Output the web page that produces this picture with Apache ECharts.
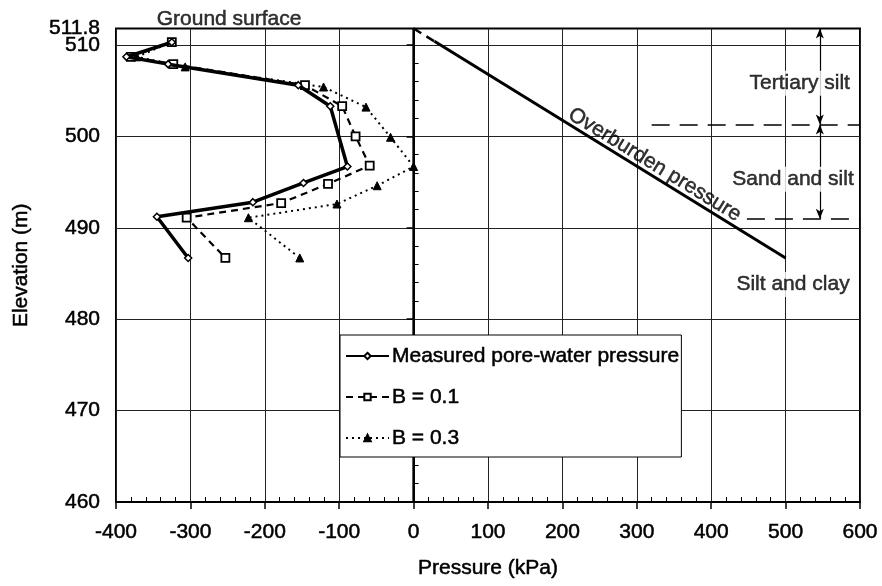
<!DOCTYPE html>
<html><head><meta charset="utf-8">
<script src="https://cdn.jsdelivr.net/npm/echarts@6/dist/echarts.min.js"></script>
<style>html,body{margin:0;padding:0;background:#fff}#c{width:882px;height:586px}</style>
</head><body><div id="c"></div>
<script>
// ---- data ----
const measuredElev = [510.3, 508.7, 507.9, 505.6, 503.3, 496.7, 494.9, 492.8, 491.2, 486.7];
const measuredKPa  = [-325, -386, -330, -155, -112, -89, -148, -216, -345, -303];
const b01Elev = [510.3, 508.7, 507.9, 505.6, 503.3, 500.0, 496.8, 494.8, 492.7, 491.1, 486.7];
const b01KPa  = [-325, -380, -323, -146, -96, -78, -59, -115, -178, -305, -253];
const b03Elev = [510.3, 508.7, 507.6, 505.4, 503.2, 499.9, 496.7, 494.6, 492.6, 491.1, 486.7];
const b03KPa  = [-325, -372, -307, -121, -64, -31, 0, -49, -103, -222, -153];
const overburdenKPa  = [0, 28, 500];
const overburdenElev = [511.8, 510.4, 486.7];
const zeroLineKPa = [0, 0];
const zeroLineElev = [511.8, 460];
const layerTopElev = [511.8, 501.3, 491.0];
const layerNames = ['Tertiary silt', 'Sand and silt', 'Silt and clay'];
const layerLabelKPa = [519, 510, 510];
const layerLabelElev = [505.8, 495.3, 483.8];
const boundaryStartKPa = [320, 448];
const dimensionKPa = 546;
const xTickValues = [-400, -300, -200, -100, 0, 100, 200, 300, 400, 500, 600];
const yTickValues = [460, 470, 480, 490, 500, 510];
const yTopLabel = [511.8];
const seriesNames = ['Measured pore-water pressure', 'B = 0.1', 'B = 0.3'];

const xMin = xTickValues[0], xMax = xTickValues[xTickValues.length - 1];
const yMin = yTickValues[0], yMax = yTopLabel[0];
const zip = (xs, ys) => xs.map((x, i) => [x, ys[i]]);
const FONT = '"Liberation Sans", Arial, Helvetica, sans-serif';
const txt = { fontFamily: FONT, fontSize: 21, color: '#000', textBorderColor: '#000', textBorderWidth: 0.5 };

const chart = echarts.init(document.getElementById('c'), null, { renderer: 'canvas' });

const axisCommonX = { type: 'value', min: xMin, max: xMax, interval: 100, position: 'bottom' };
const axisCommonY = { type: 'value', min: yMin, max: yMax, interval: 10, position: 'left' };

const option = {
  backgroundColor: '#fff',
  animation: false,
  grid: { left: 116, right: 22, top: 28.5, bottom: 84, show: true, borderColor: '#000', borderWidth: 2, backgroundColor: 'transparent' },
  legend: {
    data: seriesNames,
    orient: 'vertical', left: 340, top: 335,
    itemWidth: 43, itemHeight: 8, itemGap: 17,
    padding: [9, 2, 7, 5],
    backgroundColor: '#fff', borderColor: '#000', borderWidth: 1, borderRadius: 0,
    textStyle: Object.assign({}, txt, { lineHeight: 24, padding: [0, 0, 0, -2] }),
    selectedMode: false, z: 20
  },
  xAxis: [
    Object.assign({}, axisCommonX, {
      name: 'Pressure (kPa)', nameLocation: 'middle', nameGap: 56,
      nameTextStyle: txt,
      axisLine: { show: true, lineStyle: { color: '#000', width: 2 } },
      axisTick: { show: true, inside: false, length: 7, lineStyle: { color: '#000', width: 1.5 }, customValues: xTickValues },
      axisLabel: Object.assign({}, txt, { margin: 20, customValues: xTickValues, hideOverlap: false, showMinLabel: true, showMaxLabel: true }),
      splitLine: { show: true, lineStyle: { color: '#222', width: 1 } }
    }),
    Object.assign({}, axisCommonX, {
      axisLine: { show: false }, axisTick: { show: false, inside: true },
      axisLabel: { show: false }, splitLine: { show: false },
      minorTick: { show: true, splitNumber: 5, length: 5, lineStyle: { color: '#000', width: 1 } }
    })
  ],
  yAxis: [
    Object.assign({}, axisCommonY, {
      name: 'Elevation (m)', nameLocation: 'middle', nameGap: 84,
      nameTextStyle: txt,
      axisLine: { show: true, lineStyle: { color: '#000', width: 2 } },
      axisTick: { show: true, inside: false, length: 7, lineStyle: { color: '#000', width: 1.5 }, customValues: yTickValues },
      axisLabel: Object.assign({}, txt, { margin: 16, customValues: yTickValues, hideOverlap: false, showMinLabel: true, showMaxLabel: true }),
      splitLine: { show: true, lineStyle: { color: '#222', width: 1 } }
    }),
    Object.assign({}, axisCommonY, {
      axisLine: { show: false }, axisTick: { show: false, inside: true },
      axisLabel: Object.assign({}, txt, { show: true, margin: 16, customValues: yTopLabel, hideOverlap: false, showMaxLabel: true,
        formatter: v => String(Math.round(v * 10) / 10) }),
      splitLine: { show: false },
      minorTick: { show: true, splitNumber: 5, length: 5, lineStyle: { color: '#000', width: 1 } }
    })
  ],
  series: [
    {
      name: 'zero', type: 'line', silent: true, data: zip(zeroLineKPa, zeroLineElev),
      symbol: 'none', lineStyle: { color: '#000', width: 2.5 }, z: 2
    },
    {
      name: 'overburden-dash', type: 'line', silent: true,
      data: zip(overburdenKPa.slice(0, 2), overburdenElev.slice(0, 2)),
      symbol: 'none', lineStyle: { color: '#000', width: 2.5, type: [9, 6] }, z: 2
    },
    {
      name: 'overburden', type: 'line', silent: true,
      data: zip(overburdenKPa.slice(1), overburdenElev.slice(1)),
      symbol: 'none', lineStyle: { color: '#000', width: 3 }, z: 2
    },
    {
      name: 'layers', type: 'line', silent: true, data: [], z: 3,
      markLine: {
        silent: true, animation: false,
        label: { show: false },
        symbol: ['none', 'none'],
        lineStyle: { color: '#000', width: 1.5, type: [18, 10] },
        data: [
          [{ coord: [boundaryStartKPa[0], layerTopElev[1]] }, { coord: [xMax, layerTopElev[1]] }],
          [{ coord: [boundaryStartKPa[1], layerTopElev[2]] }, { coord: [xMax, layerTopElev[2]] }]
        ]
      }
    },
    {
      name: 'dimension', type: 'line', silent: true, data: [], z: 3,
      markLine: {
        silent: true, animation: false,
        label: { show: false },
        symbol: ['arrow', 'arrow'], symbolSize: [6, 10],
        lineStyle: { color: '#000', width: 1.2, type: 'solid' },
        data: [
          [{ coord: [dimensionKPa, layerTopElev[0]] }, { coord: [dimensionKPa, layerTopElev[1]] }],
          [{ coord: [dimensionKPa, layerTopElev[1]] }, { coord: [dimensionKPa, layerTopElev[2]] }]
        ]
      }
    },
    {
      name: seriesNames[2], type: 'line', data: zip(b03KPa, b03Elev), z: 4,
      symbol: 'triangle', symbolSize: 8, showAllSymbol: true,
      lineStyle: { color: '#000', width: 2, type: [2, 4] },
      itemStyle: { color: '#000', borderColor: '#000', borderWidth: 1 }
    },
    {
      name: seriesNames[1], type: 'line', data: zip(b01KPa, b01Elev), z: 5,
      symbol: 'rect', symbolSize: 8, showAllSymbol: true,
      lineStyle: { color: '#000', width: 2.2, type: [7, 5] },
      itemStyle: { color: '#fff', borderColor: '#000', borderWidth: 1.8 }
    },
    {
      name: seriesNames[0], type: 'line', data: zip(measuredKPa, measuredElev), z: 6,
      symbol: 'diamond', symbolSize: 7, showAllSymbol: true,
      lineStyle: { color: '#000', width: 3.5 },
      itemStyle: { color: '#fff', borderColor: '#000', borderWidth: 1.5 }
    },
    {
      name: 'annotations', type: 'scatter', silent: true, clip: false, z: 10,
      symbolSize: 0,
      itemStyle: { color: '#000' },
      data: layerNames.map((n, i) => ({
        value: [layerLabelKPa[i], layerLabelElev[i]],
        label: Object.assign({}, txt, { show: true, formatter: n, position: 'inside',
                 backgroundColor: '#fff', padding: [2, 1, 2, 1] })
      })).concat([
        { value: [-248, yMax],
          label: Object.assign({}, txt, { show: true, formatter: 'Ground surface', position: 'inside', offset: [0, -9] }) },
        { value: [324, 496.9],
          label: Object.assign({}, txt, { show: true, formatter: 'Overburden pressure', position: 'inside', rotate: -31.6 }) }
      ]),
      label: Object.assign({}, txt)
    }
  ]
};
chart.setOption(option);
</script>
</body></html>
